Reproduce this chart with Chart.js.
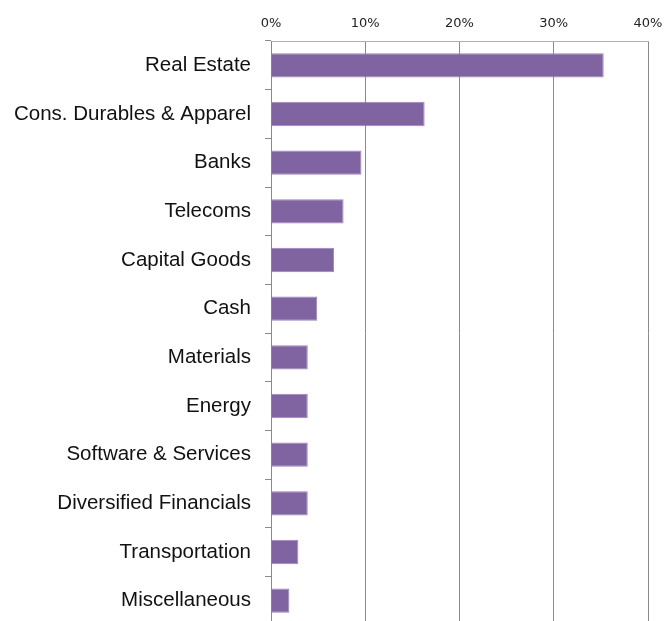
<!DOCTYPE html>
<html>
<head>
<meta charset="utf-8">
<script src="https://cdn.jsdelivr.net/npm/chart.js@4"></script>
<style>
  html, body { margin: 0; padding: 0; background: #fff; overflow: hidden; }
</style>
</head>
<body>
<canvas id="sectors" width="664" height="626"></canvas>
<script>
// sector weights (% of portfolio)
let sectors = ["Real Estate", "Cons. Durables & Apparel", "Banks", "Telecoms", "Capital Goods", "Cash",
  "Materials", "Energy", "Software & Services", "Diversified Financials", "Transportation", "Miscellaneous"]
let weights = [35.3, 16.3, 9.6, 7.7, 6.7, 4.9, 3.9, 3.9, 3.9, 3.9, 2.9, 1.95]
let xTicks = [0, 10, 20, 30, 40]

const ctx = document.getElementById("sectors")

let chartSectors = new Chart(ctx, {
  type: 'bar',
  data: {
    labels: sectors,
    datasets: [{
      label: "Weight",
      data: weights,
      backgroundColor: "#8064a2",
      borderColor: "#9a83b8",
      borderWidth: 1,
      borderSkipped: 'left',
      barPercentage: 0.5,
      categoryPercentage: 1
    }]
  },
  options: {
    responsive: false,
    animation: false,
    indexAxis: 'y',
    layout: { padding: { top: 0, right: 16, bottom: 1, left: 0 } },
    plugins: { legend: { display: false }, tooltip: { enabled: false } },
    scales: {
      x: {
        position: 'top',
        min: xTicks[0],
        max: xTicks[xTicks.length - 1],
        afterBuildTicks: (scale) => { scale.ticks = xTicks.map(v => ({ value: v })) },
        // fixed axis height, and no extra edge padding for the end labels
        afterFit: (scale) => {
          scale.height = 41
          scale.paddingLeft = 0
          scale.paddingRight = 0
        },
        grid: { color: "#8a8a8a", drawTicks: false },
        border: { color: "#b0b0b0" },
        ticks: {
          padding: 10,
          color: "#222",
          font: { family: "DejaVu Sans", size: 13 },
          callback: (v) => v + "%"
        }
      },
      y: {
        afterFit: (scale) => {
          scale.width = 271
          scale.paddingTop = 0
          scale.paddingBottom = 0
        },
        grid: { color: "#8a8a8a", drawOnChartArea: false, tickLength: 6, offset: true },
        border: { color: "#8a8a8a" },
        ticks: {
          padding: 14,
          color: "#111",
          font: { family: "Liberation Sans", size: 20.5 }
        }
      }
    }
  }
})
</script>
</body>
</html>
